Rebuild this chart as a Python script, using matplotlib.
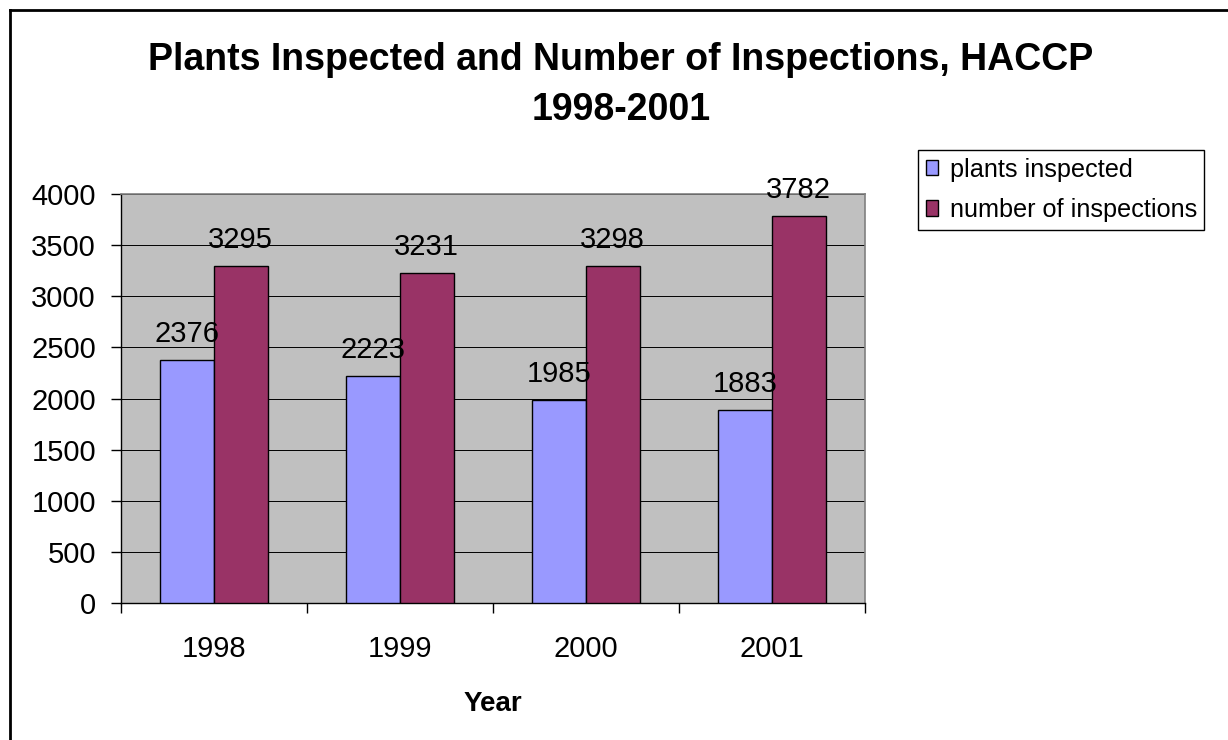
import matplotlib
matplotlib.use("Agg")
import matplotlib.pyplot as plt
from matplotlib.patches import Patch
from matplotlib.lines import Line2D
import numpy as np

plt.rcParams['font.family'] = ['Liberation Sans', 'DejaVu Sans']

years = ["1998", "1999", "2000", "2001"]
plants_inspected = [2376, 2223, 1985, 1883]
number_of_inspections = [3295, 3231, 3298, 3782]
series_names = ["plants inspected", "number of inspections"]
y_ticks = [0, 500, 1000, 1500, 2000, 2500, 3000, 3500, 4000]

W, H = 1228, 740
fig = plt.figure(figsize=(W / 100, H / 100), dpi=100)
fig.patch.set_facecolor("white")

ax = fig.add_axes([121 / W, 1 - 603 / H, (865 - 121) / W, (603 - 194) / H])
ax.set_facecolor("#C0C0C0")

x = np.arange(len(years))
bw = 0.288
c1, c2 = "#9999FF", "#993366"
ax.bar(x - bw / 2, plants_inspected, bw, color=c1, edgecolor="black", linewidth=1, zorder=3)
ax.bar(x + bw / 2, number_of_inspections, bw, color=c2, edgecolor="black", linewidth=1, zorder=3)

for xi, v in zip(x - bw / 2, plants_inspected):
    ax.annotate(str(v), (xi, v), xytext=(0, 13), textcoords="offset points",
                ha="center", va="baseline", fontsize=21, zorder=4)
for xi, v in zip(x + bw / 2, number_of_inspections):
    ax.annotate(str(v), (xi, v), xytext=(0, 13), textcoords="offset points",
                ha="center", va="baseline", fontsize=21, zorder=4)

ax.set_xlim(-0.5, len(years) - 0.5)
ax.set_ylim(0, 4000)
ax.set_yticks(y_ticks)
ax.set_yticklabels([str(t) for t in y_ticks], fontsize=21)
ax.yaxis.grid(True, color="#000000", linewidth=0.7, zorder=1)
ax.set_axisbelow(True)
ax.tick_params(axis="y", direction="out", length=7, width=1, pad=11, color="black")

ax.set_xticks(np.arange(len(years) + 1) - 0.5)
ax.set_xticklabels([])
ax.tick_params(axis="x", which="major", direction="out", length=7, width=1, color="black")
ax.set_xticks(x, minor=True)
ax.set_xticklabels(years, minor=True, fontsize=21)
ax.tick_params(axis="x", which="minor", length=0, pad=23)

for s in ["left", "bottom"]:
    ax.spines[s].set_color("black")
    ax.spines[s].set_linewidth(1)
for s in ["top", "right"]:
    ax.spines[s].set_color("#808080")
    ax.spines[s].set_linewidth(1.2)

fig.text(621 / W, 1 - 70 / H, "Plants Inspected and Number of Inspections, HACCP",
         ha="center", va="baseline", fontsize=27, fontweight="bold")
fig.text(621 / W, 1 - 120 / H, "1998-2001",
         ha="center", va="baseline", fontsize=27, fontweight="bold")
fig.text(493 / W, 1 - 711 / H, "Year", ha="center", va="baseline",
         fontsize=20, fontweight="bold")

handles = [Patch(facecolor=c1, edgecolor="black", linewidth=1),
           Patch(facecolor=c2, edgecolor="black", linewidth=1)]
leg = fig.legend(handles, series_names, loc="upper left",
                 bbox_to_anchor=(918 / W, 1 - 150 / H), bbox_transform=fig.transFigure,
                 borderaxespad=0, fontsize=18.2, handlelength=0.5, handleheight=0.55,
                 handletextpad=0.45, labelspacing=0.65, borderpad=0.3,
                 fancybox=False, framealpha=1, edgecolor="black")
leg.get_frame().set_linewidth(1)

fig.add_artist(Line2D([9.5 / W, 9.5 / W], [0, 1 - 10 / H], transform=fig.transFigure,
                      color="black", linewidth=2))
fig.add_artist(Line2D([9.5 / W, 1], [1 - 10 / H, 1 - 10 / H], transform=fig.transFigure,
                      color="black", linewidth=2))

fig.savefig("out.png", dpi=100)
